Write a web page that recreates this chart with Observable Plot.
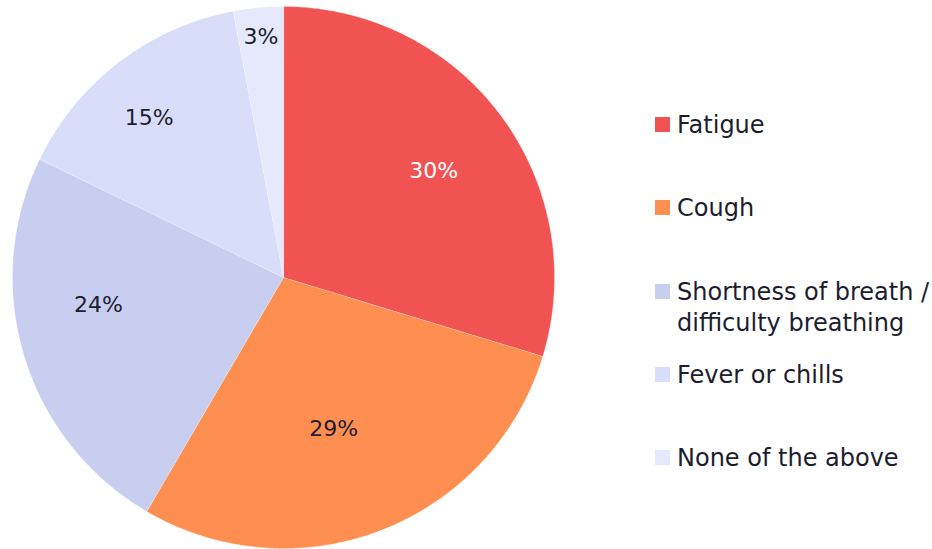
<!DOCTYPE html>
<html>
<head>
<meta charset="utf-8">
<script src="https://cdn.jsdelivr.net/npm/d3@7"></script>
<script src="https://cdn.jsdelivr.net/npm/@observablehq/plot@0.6"></script>
<style>
  html, body { margin: 0; padding: 0; background: #fff; }
  #wrap { position: relative; width: 932px; height: 549px; font-family: "DejaVu Sans", sans-serif; }
  #legend { position: absolute; left: 655px; top: 0; color: #1c1d2e; font-size: 24px; }
  .item { position: absolute; left: 0; display: flex; align-items: flex-start; white-space: nowrap; }
  .sw { width: 15px; height: 15px; margin-top: 0; margin-right: 7px; flex: none; }
  .lbl { line-height: 31px; margin-top: -7px; }
</style>
</head>
<body>
<div id="wrap"><div id="legend"></div></div>
<script>
const categories = ["Fatigue", "Cough", "Shortness of breath / difficulty breathing", "Fever or chills", "None of the above"];
const legendLines = [["Fatigue"], ["Cough"], ["Shortness of breath /", "difficulty breathing"], ["Fever or chills"], ["None of the above"]];
const values = [30, 29, 24, 15, 3];
const labels = ["30%", "29%", "24%", "15%", "3%"];
const colors = ["#f15252", "#ff8f50", "#c8cef0", "#d8defa", "#e5e9fb"];
const labelColors = ["#ffffff", "#1c1d2e", "#1c1d2e", "#1c1d2e", "#1c1d2e"];
// label placement within each slice: radial fraction and angular fraction
const labelRadius = [0.68, 0.59, 0.69, 0.77, 0.89];
const labelTurn = [0.51, 0.53, 0.6, 0.45, 0.5];

const total = d3.sum(values);
const rows = [];
const labelRows = [];
let acc = 0;
values.forEach((v, i) => {
  const a0 = acc / total * 2 * Math.PI;
  const a1 = (acc + v) / total * 2 * Math.PI;
  acc += v;
  rows.push({name: categories[i], x: 0, y: 0});
  const n = Math.max(2, Math.ceil((a1 - a0) / 0.01));
  for (let k = 0; k <= n; k++) {
    const a = a0 + (a1 - a0) * k / n;
    rows.push({name: categories[i], x: Math.sin(a), y: Math.cos(a)});
  }
  const am = a0 + (a1 - a0) * labelTurn[i];
  labelRows.push({label: labels[i], x: labelRadius[i] * Math.sin(am), y: labelRadius[i] * Math.cos(am), c: labelColors[i]});
});

// pie centre at (283, 277) px with radius 271 px in a 932x549 frame
const R = 271, cx = 283, cy = 277, W = 932, H = 549;
const plot = Plot.plot({
  width: W,
  height: H,
  margin: 0,
  x: {domain: [-cx / R, (W - cx) / R], range: [0, W], axis: null},
  y: {domain: [-(H - cy) / R, cy / R], range: [H, 0], axis: null},
  color: {domain: categories, range: colors},
  style: {fontFamily: "DejaVu Sans, sans-serif", background: "transparent"},
  marks: [
    Plot.line(rows, {x: "x", y: "y", z: "name", fill: "name", stroke: "#ffffff", strokeWidth: 0.5, strokeOpacity: 0.5, curve: "linear-closed"}),
    Plot.text(labelRows, {x: "x", y: "y", text: "label", fill: "c", fontSize: 22})
  ]
});
plot.style.position = "absolute";
plot.style.left = "0";
plot.style.top = "0";
const wrap = document.getElementById("wrap");
wrap.insertBefore(plot, wrap.firstChild);

const legend = document.getElementById("legend");
categories.forEach((c, i) => {
  const it = document.createElement("div");
  it.className = "item";
  it.style.top = (117 + i * 83.25) + "px";
  const sw = document.createElement("div");
  sw.className = "sw";
  sw.style.background = colors[i];
  const lb = document.createElement("div");
  lb.className = "lbl";
  lb.innerHTML = legendLines[i].join("<br>");
  it.appendChild(sw);
  it.appendChild(lb);
  legend.appendChild(it);
});
</script>
</body>
</html>
